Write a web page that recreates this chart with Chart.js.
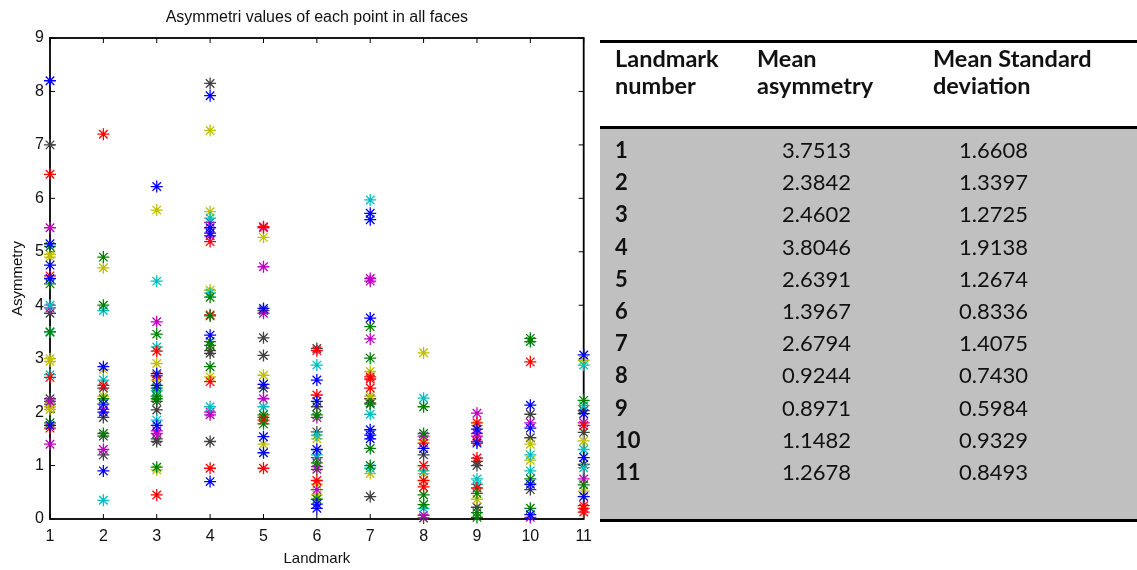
<!DOCTYPE html>
<html>
<head>
<meta charset="utf-8">
<title>Asymmetri values</title>
<script src="https://cdn.jsdelivr.net/npm/chart.js@4/dist/chart.umd.min.js"></script>
<style>
body { margin: 0; background: #fff; width: 1137px; height: 570px; overflow: hidden; position: relative; }
#plot { position: absolute; left: 0; top: 0; width: 600px; height: 570px; }
#tbl { position: absolute; left: 0; top: 0; width: 1137px; height: 570px; font-family: Lato, "Noto Sans", sans-serif; font-size: 22px; color: #111; }
#tbl div { position: absolute; white-space: nowrap; }
.rule { background: #000; left: 600px; width: 537px; height: 3px; }
.hd { font-weight: bold; line-height: 27px; font-size: 23.5px; }
.cell { line-height: 32px; }
</style>
</head>
<body>
<div id="plot"><canvas id="chart" width="600" height="570"></canvas></div>
<div id="tbl"></div>
<script>
// landmark positions on the x axis, and y ticks
var landmarks = [1, 2, 3, 4, 5, 6, 7, 8, 9, 10, 11];
var yTicks = [0, 1, 2, 3, 4, 5, 6, 7, 8, 9];

// asymmetry values per landmark, colour letter per value (matlab colour order)
var lm1 = [8.2, 7.0, 6.45, 5.45, 5.15, 5.1, 4.95, 4.9, 4.75, 4.55, 4.5, 4.4, 4.0, 3.95, 3.85, 3.5, 3.5, 3.0, 2.95, 2.7, 2.65, 2.25, 2.2, 2.15, 2.1, 2.05, 1.8, 1.75, 1.7, 1.4];
var lm1c = "bkrmbgyybrbgcmkcgyycrkmkyygbrm";
var lm2 = [7.2, 4.9, 4.7, 4.0, 3.9, 2.85, 2.8, 2.6, 2.5, 2.45, 2.3, 2.25, 2.15, 2.05, 2.0, 1.9, 1.6, 1.55, 1.3, 1.2, 0.9, 0.35];
var lm2c = "rgygcbycrkygbmbkgkmkbc";
var lm3 = [6.22, 5.78, 4.45, 3.69, 3.46, 3.22, 3.14, 2.91, 2.72, 2.68, 2.6, 2.5, 2.45, 2.4, 2.3, 2.25, 2.2, 2.04, 1.85, 1.75, 1.65, 1.6, 1.5, 1.45, 0.97, 0.92, 0.45];
var lm3c = "bycmgcrybrybgcggkkcbmmkkgyr";
var lm4 = [8.15, 7.92, 7.27, 5.75, 5.63, 5.55, 5.45, 5.35, 5.3, 5.19, 4.28, 4.23, 4.15, 3.82, 3.8, 3.44, 3.32, 3.25, 3.15, 3.1, 2.85, 2.66, 2.57, 2.1, 2.0, 1.95, 1.45, 0.95, 0.7];
var lm4c = "kbyycmbbmrycgrgbggkkgyrcmmkrb";
var lm5 = [5.47, 5.45, 5.27, 4.72, 3.94, 3.9, 3.85, 3.39, 3.06, 2.69, 2.52, 2.45, 2.25, 2.1, 1.95, 1.9, 1.85, 1.78, 1.54, 1.4, 1.24, 0.95];
var lm5c = "rmymbkmkkybkmcgrrgbybr";
var lm6 = [3.19, 3.15, 2.88, 2.6, 2.32, 2.2, 2.1, 1.95, 1.9, 1.63, 1.57, 1.5, 1.3, 1.2, 1.15, 1.05, 0.98, 0.93, 0.72, 0.65, 0.55, 0.45, 0.37, 0.28, 0.2];
var lm6c = "krcbrbkgmkcybcmgmkrymygbb";
var lm7 = [5.97, 5.72, 5.6, 4.5, 4.45, 3.76, 3.6, 3.37, 3.01, 2.76, 2.66, 2.62, 2.45, 2.3, 2.25, 2.17, 2.15, 1.96, 1.67, 1.57, 1.5, 1.32, 1.0, 0.95, 0.85, 0.42];
var lm7c = "cbbmmbgmgyrrrykkgcbbbggcyk";
var lm8 = [3.11, 2.26, 2.1, 1.6, 1.55, 1.48, 1.42, 1.32, 1.2, 1.0, 0.9, 0.85, 0.72, 0.6, 0.45, 0.27, 0.2, 0.07, 0.02];
var lm8c = "ycggmyrbkrcyrrggcmk";
var lm9 = [1.98, 1.8, 1.75, 1.68, 1.6, 1.55, 1.45, 1.42, 1.14, 1.08, 1.0, 0.75, 0.65, 0.58, 0.48, 0.37, 0.22, 0.12, 0.03];
var lm9c = "mrybmmrbrkkccrgykgg";
var lm10 = [3.38, 3.32, 2.94, 2.13, 1.96, 1.8, 1.7, 1.52, 1.4, 1.2, 1.1, 0.9, 0.75, 0.65, 0.55, 0.2, 0.08, 0.03];
var lm10c = "ggrbkmbkycycgbkgbm";
var lm11 = [3.07, 2.97, 2.88, 2.22, 2.12, 2.03, 1.97, 1.8, 1.75, 1.62, 1.46, 1.3, 1.15, 1.02, 0.96, 0.75, 0.64, 0.52, 0.42, 0.25, 0.2, 0.13];
var lm11c = "bycgckbmrkycbkcmgybrrr";

// table on the right
var tableHeader = [["Landmark", "number"], ["Mean", "asymmetry"], ["Mean Standard", "deviation"]];
var meanAsymmetry = [3.7513, 2.3842, 2.4602, 3.8046, 2.6391, 1.3967, 2.6794, 0.9244, 0.8971, 1.1482, 1.2678];
var meanStd = [1.6608, 1.3397, 1.2725, 1.9138, 1.2674, 0.8336, 1.4075, 0.7430, 0.5984, 0.9329, 0.8493];

var colorOrder = "bgrcmyk";
var palette = { b: '#0000ff', g: '#008000', r: '#ff0000', c: '#00bfbf', m: '#bf00bf', y: '#bfbf00', k: '#404040' };

var columns = [[lm1, lm1c], [lm2, lm2c], [lm3, lm3c], [lm4, lm4c], [lm5, lm5c], [lm6, lm6c],
    [lm7, lm7c], [lm8, lm8c], [lm9, lm9c], [lm10, lm10c], [lm11, lm11c]];

var datasets = colorOrder.split('').map(function (key) {
    var pts = [];
    columns.forEach(function (col, i) {
        for (var j = 0; j < col[0].length; j++) {
            if (col[1][j] === key)
                pts.push({ x: landmarks[i], y: col[0][j] });
        }
    });
    return {
        data: pts,
        pointStyle: 'star',
        pointRadius: 6,
        pointBorderWidth: 1.3,
        borderColor: palette[key],
        backgroundColor: palette[key],
        showLine: false,
        clip: false
    };
});

// matlab style box with inward ticks
var axesBox = {
    id: 'axesBox',
    beforeDatasetsDraw: function (chart) {
        var ctx = chart.ctx, a = chart.chartArea, x = chart.scales.x, y = chart.scales.y;
        ctx.save();
        ctx.strokeStyle = '#000';
        ctx.lineWidth = 1;
        ctx.beginPath();
        landmarks.forEach(function (v) {
            var px = x.getPixelForValue(v);
            ctx.moveTo(px, a.bottom); ctx.lineTo(px, a.bottom - 5);
            ctx.moveTo(px, a.top); ctx.lineTo(px, a.top + 5);
        });
        yTicks.forEach(function (v) {
            var py = y.getPixelForValue(v);
            ctx.moveTo(a.left, py); ctx.lineTo(a.left + 5, py);
            ctx.moveTo(a.right, py); ctx.lineTo(a.right - 5, py);
        });
        ctx.stroke();
        ctx.lineWidth = 1.8;
        ctx.strokeRect(a.left, a.top, a.right - a.left, a.bottom - a.top);
        ctx.restore();
    }
};

var font = "'Liberation Sans', Arial, sans-serif";

new Chart(document.getElementById('chart').getContext('2d'), {
    type: 'scatter',
    data: { datasets: datasets },
    options: {
        responsive: false,
        animation: false,
        layout: { padding: { left: 0, right: 14, top: 0, bottom: 0 } },
        plugins: {
            legend: { display: false },
            tooltip: { enabled: false },
            title: {
                display: true,
                text: 'Asymmetri values of each point in all faces',
                fullSize: false,
                color: '#111',
                font: { family: font, size: 16, weight: 'normal' },
                padding: { top: 8, bottom: 10.8 }
            }
        },
        scales: {
            x: {
                type: 'linear', min: 1, max: 11,
                grid: { display: false, drawTicks: false },
                border: { display: false },
                ticks: { stepSize: 1, color: '#111', padding: 8, font: { family: font, size: 16 } },
                title: { display: true, text: 'Landmark', color: '#111', font: { family: font, size: 15 }, padding: { top: 0, bottom: 2 } },
                afterFit: function (s) { s.height = 51; }
            },
            y: {
                min: 0, max: 9,
                grid: { display: false, drawTicks: false },
                border: { display: false },
                ticks: { stepSize: 1, color: '#111', padding: 6, font: { family: font, size: 16 } },
                title: { display: true, text: 'Asymmetry', color: '#111', font: { family: font, size: 15 }, padding: { top: 9, bottom: 0 } },
                afterFit: function (s) { s.width = 50; }
            }
        }
    },
    plugins: [axesBox]
});

// build the table
var tbl = document.getElementById('tbl');
function add(cls, left, top, html, extra) {
    var d = document.createElement('div');
    d.className = cls;
    d.style.left = left + 'px';
    d.style.top = top + 'px';
    if (extra) for (var k in extra) d.style[k] = extra[k];
    d.innerHTML = html;
    tbl.appendChild(d);
}
add('', 600, 129, '', { width: '537px', height: '390px', background: '#c0c0c0' });
add('rule', 600, 40, '');
add('rule', 600, 126, '');
add('rule', 600, 519, '');
var headX = [615, 757, 933];
tableHeader.forEach(function (h, i) { add('hd', headX[i], 45, h.join('<br>')); });
landmarks.forEach(function (n, i) {
    var top = 134 + i * 32.2;
    add('cell', 615, top, n, { fontWeight: 'bold' });
    add('cell', 782, top, meanAsymmetry[i].toFixed(4));
    add('cell', 959, top, meanStd[i].toFixed(4));
});
</script>
</body>
</html>
